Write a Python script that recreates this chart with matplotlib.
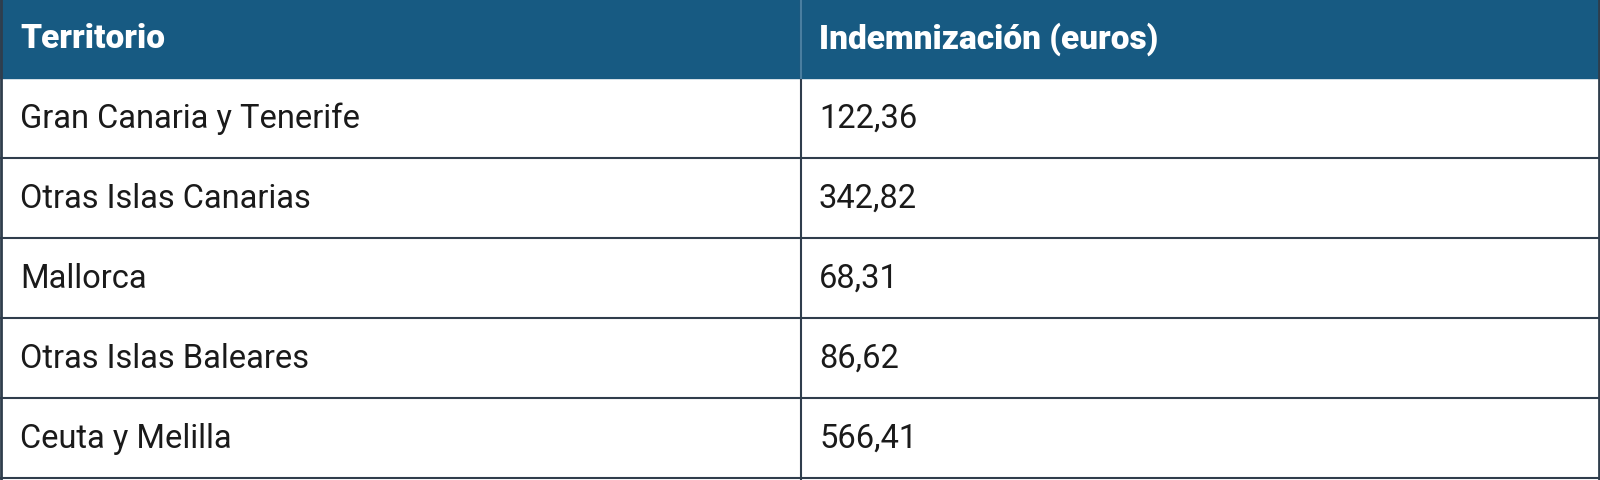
import matplotlib
matplotlib.use("Agg")
import matplotlib.pyplot as plt
from matplotlib.patches import Rectangle

headers = ["Territorio", "Indemnización (euros)"]
territorios = ["Gran Canaria y Tenerife", "Otras Islas Canarias", "Mallorca",
               "Otras Islas Baleares", "Ceuta y Melilla"]
valores = ["122,36", "342,82", "68,31", "86,62", "566,41"]

W, H = 1600, 481
fig = plt.figure(figsize=(16, 4.81), dpi=100)
ax = fig.add_axes([0, 0, 1, 1])
ax.set_xlim(0, W)
ax.set_ylim(H, 0)
ax.axis("off")

header_h = 79
row_h = (H - 2 - header_h) / len(territorios)
col_x = 801
line_c = "#2f3d4c"
hdr_c = "#175a82"

ax.add_patch(Rectangle((0, 0), W, header_h, color=hdr_c, zorder=1))
ax.text(20, header_h / 2, headers[0], color="white", fontsize=24, fontweight="heavy",
        family="Roboto", va="center", ha="left")
ax.text(col_x + 18, header_h / 2, headers[1], color="white", fontsize=24, fontweight="heavy",
        family="Roboto", va="center", ha="left")

for i, (t, v) in enumerate(zip(territorios, valores)):
    y0 = header_h + i * row_h
    yc = y0 + row_h / 2
    ax.text(20, yc, t, fontsize=23.5, family="Roboto", color="#1a1a1a", va="center", ha="left")
    ax.text(col_x + 18, yc, v, fontsize=23.5, family="Roboto", color="#1a1a1a", va="center", ha="left")
    ax.plot([0, W], [y0 + row_h, y0 + row_h], color=line_c, lw=1.5, zorder=3)

ax.plot([col_x, col_x], [0, H], color=line_c, lw=1.5, zorder=3)
ax.plot([1, 1], [0, H], color=line_c, lw=2, zorder=3)
ax.plot([W - 1, W - 1], [0, H], color=line_c, lw=2, zorder=3)
ax.plot([col_x, col_x], [0, header_h], color="#4a7ea0", lw=1.5, zorder=4)

fig.savefig("out.png", dpi=100)
